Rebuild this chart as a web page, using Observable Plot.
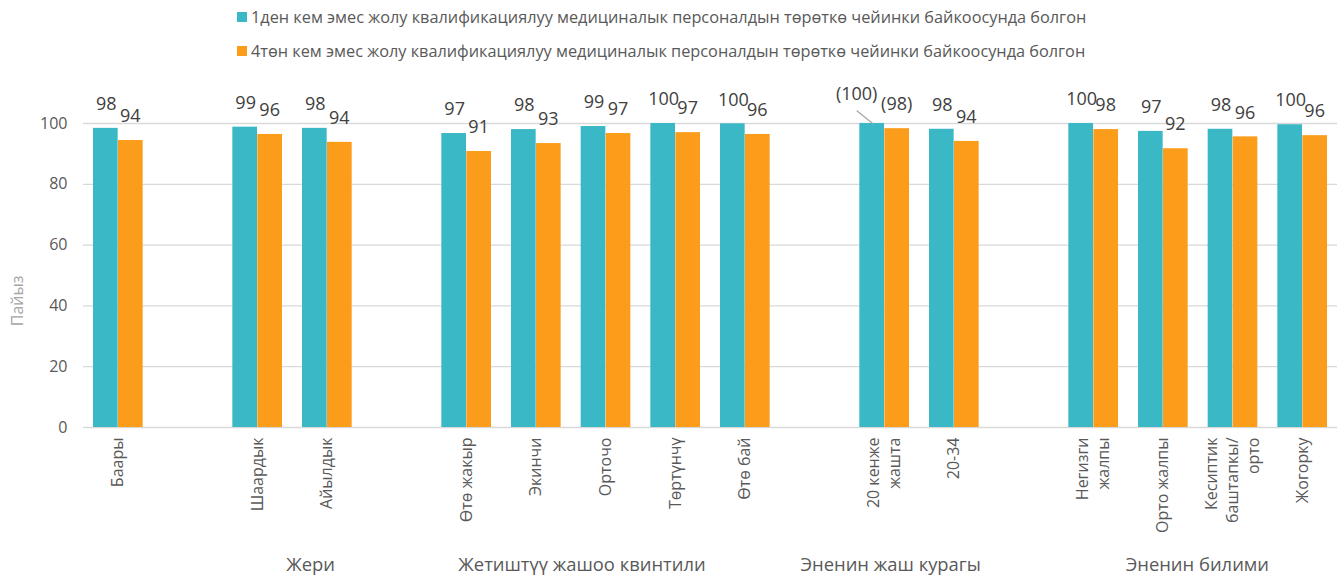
<!DOCTYPE html>
<html><head><meta charset="utf-8">
<script src="https://cdn.jsdelivr.net/npm/d3@7"></script>
<script src="https://cdn.jsdelivr.net/npm/@observablehq/plot@0.6"></script>
<style>
body{margin:0;background:#fff;font-family:"Open Sans",sans-serif;}
#legend{position:relative;height:70px;width:1343px;}
.item{position:absolute;left:237px;height:20px;display:flex;align-items:center;font-size:16.3px;color:#595959;white-space:nowrap;}
.sw{width:10px;height:10px;margin-right:4px;flex:none;}
#chart svg{overflow:visible;display:block;}
</style></head><body>
<div id="legend"></div>
<div id="chart"></div>
<script>
// ---- data ----
const slots = ["Баары","_g1","Шаардык","Айылдык","_g2","Өтө жакыр","Экинчи","Орточо","Төртүнчү","Өтө бай","_g3","20 кенже\nжашта","20-34","_g4","Негизги\nжалпы","Орто жалпы","Кесиптик\nбаштапкы/\nорто","Жогорку"];
const categories = ["Баары","Шаардык","Айылдык","Өтө жакыр","Экинчи","Орточо","Төртүнчү","Өтө бай","20 кенже\nжашта","20-34","Негизги\nжалпы","Орто жалпы","Кесиптик\nбаштапкы/\nорто","Жогорку"];
const seriesNames = ["1ден кем эмес жолу квалификациялуу медициналык персоналдын төрөткө чейинки байкоосунда болгон","4төн кем эмес жолу квалификациялуу медициналык персоналдын төрөткө чейинки байкоосунда болгон"];
const values1 = [98.4,98.8,98.4,96.7,98.0,99.0,100,99.9,100,98.1,100,97.4,98.1,99.6];
const values2 = [94.4,96.4,93.8,90.8,93.4,96.7,97.0,96.4,98.3,94.1,98.0,91.7,95.6,96.0];
const labels1 = ["98","99","98","97","98","99","100","100","(100)","98","100","97","98","100"];
const labels2 = ["94","96","94","91","93","97","97","96","(98)","94","98","92","96","96"];
const groupNames = ["Жери","Жетиштүү жашоо квинтили","Эненин жаш курагы","Эненин билими"];
const yTicks = [0,20,40,60,80,100];
const colors = ["#3bb8c6","#fb9d1a"];

const d1 = categories.map((c,i)=>({cat:c,value:values1[i],label:labels1[i]}));
const d2 = categories.map((c,i)=>({cat:c,value:values2[i],label:labels2[i]}));

// legend
const lg = document.getElementById("legend");
seriesNames.forEach((s,i)=>{
  const it = document.createElement("div");
  it.className="item"; it.style.top = (7+i*34)+"px";
  it.innerHTML = `<span class="sw" style="background:${colors[i]}"></span><span>${s}</span>`;
  lg.appendChild(it);
});

const textStyle = {fill:"#404040", fontSize:18, lineAnchor:"middle"};
const normal1 = d1.filter(d=>!d.label.startsWith("("));
const special1 = d1.filter(d=>d.label.startsWith("("));
const groupStyle = {frameAnchor:"bottom", dy:143, fontSize:18.4, fill:"#595959"};

// tick label lines (multi-line categories split into one datum per line)
const LINE_GAP = 21;
const tickLines = categories.flatMap(c=>{
  const parts = c.split("\n"); const n = parts.length;
  return parts.map((t,k)=>({cat:c, text:t, off:(k-(n-1)/2)*LINE_GAP}));
});
const offsets = [...new Set(tickLines.map(d=>d.off))];
const tickMarks = offsets.map(o=>Plot.text(tickLines.filter(d=>d.off===o),
  {x:"cat", y:()=>0, text:"text", dx:o, dy:10, rotate:-90, textAnchor:"end", lineAnchor:"middle", fontSize:16, fill:"#595959"}));

const chart = Plot.plot({
  width:1343, height:510,
  marginLeft:83, marginRight:6, marginTop:53, marginBottom:153,
  style:{fontFamily:"Open Sans", fontSize:"16px", color:"#595959", background:"#fff"},
  x:{domain:slots, padding:0, round:false, axis:null},
  y:{domain:[0,100], ticks:yTicks, tickSize:0, tickPadding:16, label:null},
  marks:[
    Plot.ruleY(yTicks,{stroke:"#d9d9d9", strokeWidth:1.3}),
    Plot.barY(d1,{x:"cat", y:"value", fill:colors[0], insetLeft:10, insetRight:35}),
    Plot.barY(d2,{x:"cat", y:"value", fill:colors[1], insetLeft:35, insetRight:10}),
    Plot.text(normal1,{x:"cat", y:"value", text:"label", dx:-12, dy:-24, ...textStyle}),
    Plot.text(special1,{x:"cat", y:"value", text:"label", dx:-28, dy:-29, ...textStyle}),
    Plot.vector(special1,{x:"cat", y:"value", dx:-12, anchor:"start", rotate:-51, length:20, stroke:"#a6a6a6", strokeWidth:1.3,
      shape:{draw(ctx,l){ctx.moveTo(0,0);ctx.lineTo(0,-l);}}}),
    Plot.text(d2,{x:"cat", y:"value", text:"label", dx:12, dy:-24, ...textStyle}),
    ...tickMarks,
    Plot.text(["Пайыз"],{frameAnchor:"left", dx:-66, rotate:-90, textAnchor:"end", fill:"#a6a6a6", fontSize:16}),
    Plot.text([groupNames[0]],{x:()=>"Шаардык", dx:53, ...groupStyle}),
    Plot.text([groupNames[1]],{x:()=>"Орточо", dx:-24, ...groupStyle}),
    Plot.text([groupNames[2]],{x:()=>"20 кенже\nжашта", dx:6, ...groupStyle}),
    Plot.text([groupNames[3]],{x:()=>"Орто жалпы", dx:34, ...groupStyle})
  ]
});
document.getElementById("chart").appendChild(chart);
</script>
</body></html>
